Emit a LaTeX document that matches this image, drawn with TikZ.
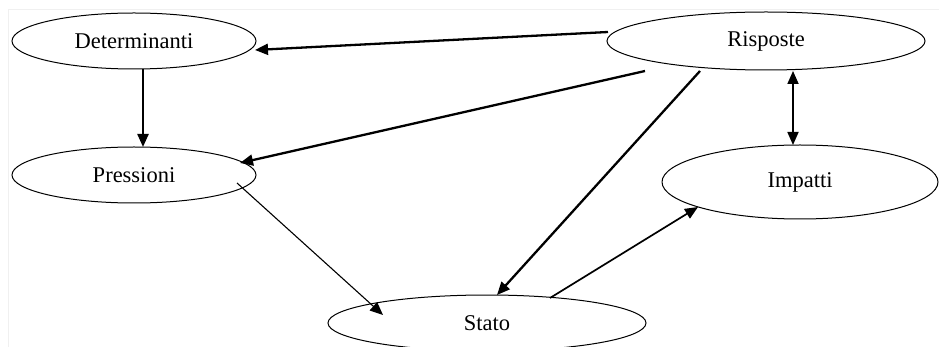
\documentclass[tikz,border=0pt]{standalone}
\usepackage{fontspec}
\setmainfont{Liberation Serif}
\usetikzlibrary{shapes.geometric,arrows.meta,calc}
\tikzset{
  oval/.style={ellipse, draw=black, line width=1pt, inner sep=0pt,
    font=\fontsize{22.5}{26}\selectfont},
  tip/.style={Triangle[length=13pt,width=11pt]},
  thickarrow/.style={-{Triangle[length=13pt,width=11pt]}, line width=2.3pt},
  medarrow/.style={-{Triangle[length=13pt,width=11pt]}, line width=1.7pt},
  thinarrow/.style={-{Triangle[length=13pt,width=11pt]}, line width=1.1pt},
  frameline/.style={draw={rgb,255:red,240;green,240;blue,240}, line width=1pt}
}
\begin{document}
\begin{tikzpicture}[x=1pt,y=1pt]
\clip (0,0) rectangle (939,-347);
\fill[white] (0,0) rectangle (939,-347);
\draw[frameline] (8,-347) -- (8,-10) -- (939,-10);

\node[oval, minimum width=244pt, minimum height=56pt] (D) at (134,-41) {Determinanti};
\node[oval, minimum width=244pt, minimum height=56pt] (P) at (134,-175) {Pressioni};
\node[oval, minimum width=318pt, minimum height=58pt] (R) at (766,-41) {Risposte};
\node[oval, minimum width=276pt, minimum height=74pt] (I) at (800,-182) {Impatti};
\node[oval, minimum width=318pt, minimum height=56pt] (S) at (487,-323) {Stato};

\draw[thickarrow] ($(R.center)+(-158,9)$) -- ($(D.center)+(121,-9)$);
\draw[thickarrow] ($(D.center)+(9,-28)$) -- ($(P.center)+(9,28)$);
\draw[thickarrow] ($(R.center)+(-121,-30)$) -- ($(P.center)+(106,12)$);
\draw[thinarrow] ($(P.center)+(103,-8)$) -- ($(S.center)+(-104,8)$);
\draw[thickarrow] ($(R.center)+(-66,-30)$) -- ($(S.center)+(10,28)$);
\draw[medarrow] ($(S.center)+(63,25)$) -- ($(I.center)+(-102,-25)$);
\draw[medarrow, {Triangle[length=13pt,width=11pt]}-{Triangle[length=13pt,width=11pt]}] ($(R.center)+(27,-30)$) -- ($(I.center)+(-7,37)$);
\end{tikzpicture}
\end{document}
